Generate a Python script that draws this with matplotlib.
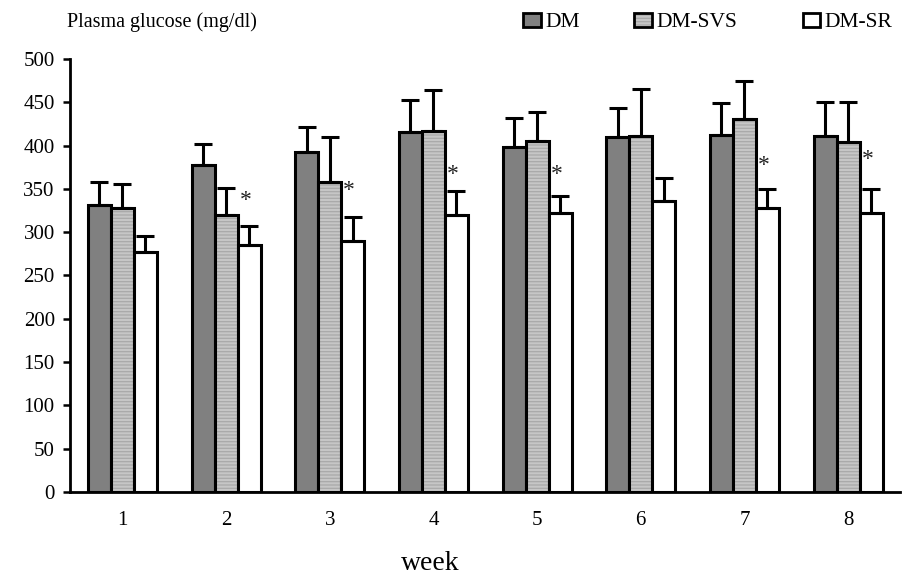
import matplotlib.pyplot as plt
import numpy as np
from matplotlib.patches import Rectangle

# ---- data ----
weeks = ['1', '2', '3', '4', '5', '6', '7', '8']
dm = [331, 377, 393, 416, 398, 410, 412, 411]
dm_err = [27, 25, 28, 36, 34, 33, 37, 39]
svs = [328, 320, 358, 417, 405, 411, 431, 404]
svs_err = [28, 31, 52, 47, 34, 54, 44, 46]
sr = [277, 285, 290, 320, 322, 336, 328, 322]
sr_err = [18, 22, 27, 27, 20, 27, 22, 28]
# significance marks (week index, height of the star)
star_week = [1, 2, 3, 4, 6, 7]
star_y = [337, 348, 366, 366, 377, 384]

series_names = ['DM', 'DM-SVS', 'DM-SR']

plt.rcParams['font.family'] = ['Liberation Serif', 'DejaVu Serif']
plt.rcParams['hatch.linewidth'] = 0.9

fig = plt.figure(figsize=(9.1, 5.83), dpi=100)
ax = fig.add_axes([0.077, 0.156, 0.912, 0.743])

x = np.arange(len(weeks))
w = 0.222
dark = '#808080'
light = '#c6c6c6'
stripe = '#a9a9a9'

err_kw = dict(elinewidth=2.2, capsize=6.5, capthick=2.2, ecolor='black')
zeros = np.zeros(len(weeks))

ax.bar(x - w, dm, w, color=dark, edgecolor='black', linewidth=2.2)
ax.errorbar(x - w, dm, yerr=[zeros, dm_err], fmt='none', **err_kw)

# striped fill first, black outline on top
ax.bar(x, svs, w, color=light, edgecolor=stripe, linewidth=0, hatch='-----')
ax.bar(x, svs, w, fill=False, edgecolor='black', linewidth=2.2)
ax.errorbar(x, svs, yerr=[zeros, svs_err], fmt='none', **err_kw)

ax.bar(x + w, sr, w, color='white', edgecolor='black', linewidth=2.2)
ax.errorbar(x + w, sr, yerr=[zeros, sr_err], fmt='none', **err_kw)

for i, yv in zip(star_week, star_y):
    ax.text(x[i] + w - 0.035, yv, '*', ha='center', va='center',
            fontsize=17, color='#222222')

ax.set_xlim(-0.505, 7.5)
ax.set_ylim(0, 500)
ax.set_yticks(range(0, 501, 50))
ax.set_xticks(x)
ax.set_xticklabels(weeks)
ax.tick_params(axis='y', length=5, width=1.8, labelsize=15, pad=6)
ax.tick_params(axis='x', length=0, labelsize=15, pad=14)
for s in ['top', 'right']:
    ax.spines[s].set_visible(False)
for s in ['left', 'bottom']:
    ax.spines[s].set_linewidth(2)
ax.set_xlabel('week', fontsize=20)
ax.xaxis.set_label_coords(0.434, -0.135)

fig.text(0.074, 0.954, 'Plasma glucose (mg/dl)', fontsize=14.5, va='baseline')

# legend drawn by hand: square + label
sq_x = [0.575, 0.697, 0.882]
fills = [dark, light, 'white']
hatches = [None, '-----', None]
for sx, fc, h, name in zip(sq_x, fills, hatches, series_names):
    if h:
        fig.add_artist(Rectangle((sx, 0.954), 0.019, 0.024, transform=fig.transFigure,
                                 facecolor=fc, edgecolor=stripe, linewidth=0, hatch=h))
        fc = 'none'
    fig.add_artist(Rectangle((sx, 0.954), 0.019, 0.024, transform=fig.transFigure,
                             facecolor=fc, edgecolor='black', linewidth=2))
    fig.text(sx + 0.024, 0.954, name, fontsize=15.5, va='baseline')

fig.savefig('out.png', dpi=100)
